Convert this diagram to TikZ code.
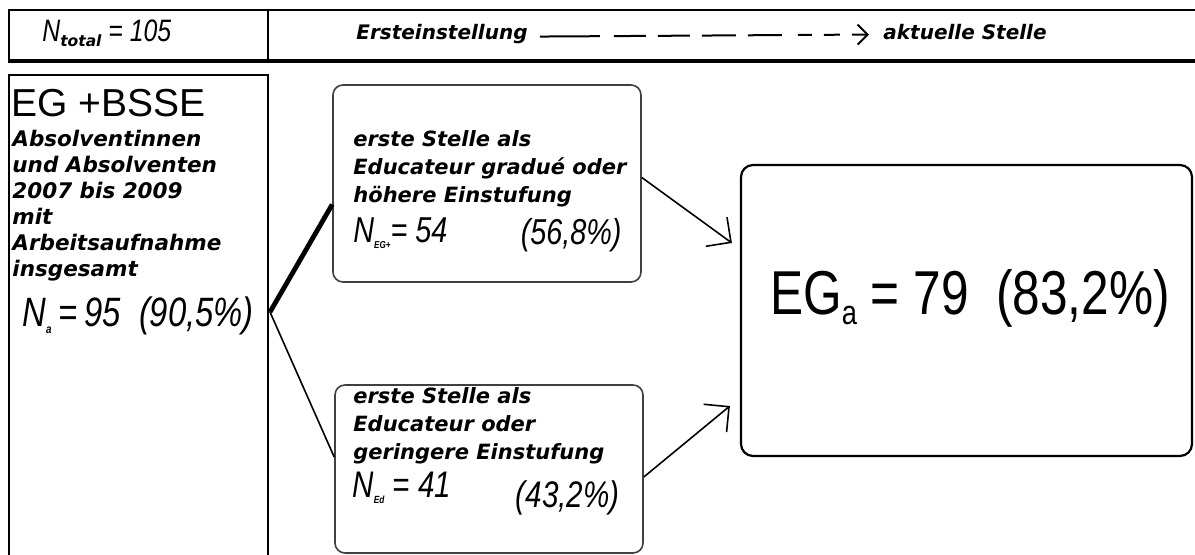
\documentclass[tikz,border=0pt]{standalone}
\usepackage{fontspec}
\setmainfont{Liberation Sans}
\newfontfamily\verd{DejaVu Sans}
\newfontfamily\narr[FakeStretch=0.8]{Liberation Sans}
\usetikzlibrary{arrows.meta,fit}
\newcommand\lowidx[2][0.35]{\raisebox{-0.3ex}{\scalebox{#1}{#2}}}

\begin{document}
\begin{tikzpicture}[x=0.5pt,y=-0.5pt,
  barbox/.style={draw,line width=1pt,inner sep=0pt},
  grpbox/.style={draw,line width=1.1pt,inner sep=0pt},
  stelle/.style={draw=black!75,line width=0.8pt,rounded corners=5pt,inner sep=0pt},
  result/.style={draw,line width=1.1pt,rounded corners=6pt,inner sep=0pt},
  txt/.style={anchor=base west,inner sep=0pt,align=left},
  ital/.style={txt,font=\verd\bfseries\itshape\fontsize{10.75}{13}\selectfont},
  bital/.style={txt,font=\verd\bfseries\itshape\fontsize{10.5}{14}\selectfont},
  nar/.style={txt,font=\narr\itshape},
  link/.style={line width=0.8pt},
  flow/.style={line width=0.8pt,-{Straight Barb[length=9pt,width=18pt]}}
]
\useasboundingbox (0,0) rectangle (1195,555);

% top bar
\node[barbox,fit={(9,10) (1200,60)}] (bar) {};
\draw[line width=1.6pt] (bar.south west) -- (bar.south east);
\draw[line width=1pt] (268,10) -- (268,60);
\node[txt,font=\narr\itshape\fontsize{15.5}{18}\selectfont] (ntot) at (42,42)
  {N\lowidx[0.5]{\verd\bfseries total} = 105};
\node[txt,font=\verd\bfseries\itshape\fontsize{10}{12}\selectfont] (first) at (356,40) {Ersteinstellung};
\node[txt,font=\verd\bfseries\itshape\fontsize{10}{12}\selectfont] (now) at (883,40) {aktuelle Stelle};
\draw[line width=1pt,-{Straight Barb[length=5pt,width=10pt]},
  dash pattern=on 30pt off 7pt on 16pt off 6pt on 16pt off 6pt on 17pt off 6pt on 17pt off 8pt on 7pt off 6pt on 8pt off 6pt]
  ([xshift=6pt,yshift=-1pt]first.east) -- ([xshift=-7pt,yshift=-1pt]now.west);

% left group
\node[grpbox,fit={(9,75) (268,562)}] (grp) {};
\node[txt,font=\fontsize{19.5}{24}\selectfont] (title) at (11,117) {EG +BSSE};
\node[ital] (desc) at (12,277) {Absolventinnen\\und Absolventen\\2007 bis 2009\\mit\\Arbeitsaufnahme\\insgesamt};
\node[nar,font=\narr\itshape\fontsize{20.5}{24}\selectfont] (na) at (22,327)
  {N\lowidx[0.3]{\bfseries a}\,=\,95\ \ (90,5\%)};

% first positions
\node[stelle,fit={(333,85) (641,282)}] (eg) {};
\node[bital] (egtxt) at (353,203) {erste Stelle als\\Educateur gradu\'e oder\\h\"ohere Einstufung};
\node[nar,font=\narr\itshape\fontsize{18}{20}\selectfont] (negp) at (353,243)
  {N\lowidx[0.28]{\bfseries EG+}= 54};
\node[nar,font=\narr\itshape\fontsize{18}{20}\selectfont,anchor=base east] (egpct) at (622,245) {(56,8\%)};

\node[stelle,fit={(335,385) (643,553)}] (ed) {};
\node[bital] (edtxt) at (353,460) {erste Stelle als\\Educateur oder\\geringere Einstufung};
\node[nar,font=\narr\itshape\fontsize{18.5}{20}\selectfont] (ned) at (352,498)
  {N\lowidx[0.28]{\bfseries Ed} = 41};
\node[nar,font=\narr\itshape\fontsize{18.5}{20}\selectfont,anchor=base east] (edpct) at (620,508) {(43,2\%)};

% current position
\node[result,fit={(741,165) (1192,456)}] (ega) {};
\node[inner sep=0pt,anchor=base,font=\narr\fontsize{31}{34}\selectfont] (egares) at (970,315)
  {EG\lowidx[0.55]{a} = 79\ \ (83,2\%)};

% connectors
\coordinate (split) at (270,312);
\draw[line width=2.4pt] (split) -- ([yshift=-10.5pt]eg.west);
\draw[link] (split) -- ([yshift=6pt]ed.west);
\draw[flow] ([yshift=3pt]eg.east) -- ([xshift=-4pt,yshift=33.75pt]ega.west);
\draw[flow] ([yshift=-4pt]ed.east) -- ([xshift=-5pt,yshift=-47.75pt]ega.west);
\end{tikzpicture}
\end{document}
